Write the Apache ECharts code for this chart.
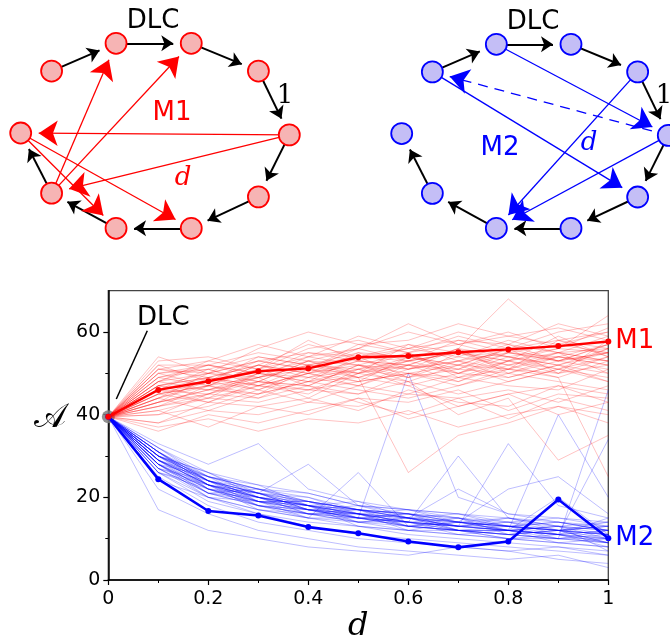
<!DOCTYPE html>
<html>
<head>
<meta charset="utf-8">
<script src="https://cdn.jsdelivr.net/npm/echarts@6/dist/echarts.min.js"></script>
<style>
html,body{margin:0;padding:0;background:#fff}
#chart{width:670px;height:641px}
</style>
</head>
<body>
<div id="chart"></div>
<script>
// d 轴取值
const dValues = [0, 0.1, 0.2, 0.3, 0.4, 0.5, 0.6, 0.7, 0.8, 0.9, 1];
// 粗线 (M1 / M2)
const m1Main = [39.5, 46.0, 48.1, 50.5, 51.2, 53.9, 54.2, 55.1, 55.8, 56.6, 57.7];
const m2Main = [39.5, 24.4, 16.7, 15.6, 12.8, 11.3, 9.3, 7.9, 9.3, 19.5, 10.1];
// 细线 M1 各次
const m1Runs = [
  [39.5,45,47,49,52,51,53,55,54,56,55],
  [39.5,48,46,50,49,53,52,51,55,53,57],
  [39.5,42,44,47,46,48,50,49,51,50,52],
  [39.5,51,50,53,55,54,56,58,57,55,59],
  [39.5,44,48,46,50,52,49,53,51,54,53],
  [39.5,38,41,40,43,42,45,44,46,43,47],
  [39.5,47,49,52,50,55,54,52,56,58,56],
  [39.5,53,54,51,56,58,55,57,60,56,61],
  [39.5,41,37,42,44,41,46,43,42,47,45],
  [39.5,46,51,48,53,50,57,55,53,59,54],
  [39.5,43,46,45,48,51,47,50,49,52,50],
  [39.5,49,47,51,54,52,51,56,54,52,55],
  [39.5,36,40,38,41,44,39,42,45,40,43],
  [39.5,50,52,55,53,56,60,57,59,61,58],
  [39.5,45,43,48,47,45,50,52,48,51,49],
  [39.5,47,50,49,52,54,53,50,55,54,57],
  [39.5,42,45,50,48,49,26,35,38,42,40],
  [39.5,52,48,53,51,57,55,59,56,60,62],
  [39.5,44,47,44,49,47,52,48,53,50,54],
  [39.5,48,53,51,58,53,56,54,58,55,56],
  [39.5,40,42,46,43,47,45,49,47,46,51],
  [39.5,46,45,49,51,50,54,52,51,55,53],
  [39.5,43,49,47,45,51,49,55,52,49,25],
  [39.5,50,51,47,52,55,51,53,57,53,55],
  [39.5,45,47,52,50,48,54,51,50,53,51],
  [39.5,38,43,42,40,44,43,46,41,45,44],
  [39.5,54,50,56,60,57,58,62,59,57,60],
  [39.5,47,46,48,47,52,50,48,52,54,52],
  [39.5,41,44,43,46,45,48,40,44,29,35],
  [39.5,49,52,50,55,53,52,56,68,58,60],
  [39.5,44,41,45,48,46,44,47,50,48,46],
  [39.5,46,48,54,52,49,53,55,53,56,64],
  [39.5,43,46,49,44,50,48,45,48,51,48],
  [39.5,51,49,52,57,54,57,53,55,57,55],
  [39.5,37,39,36,39,38,41,37,40,42,38],
  [39.5,48,50,53,51,56,62,57,54,52,56],
  [39.5,46,49,47,50,53,51,54,52,55,53],
  [39.5,50,47,52,49,51,55,50,54,51,56],
  [39.5,44,50,48,53,49,52,56,50,54,52],
  [39.5,47,44,50,53,52,48,52,56,50,58],
  [39.5,52,52,49,54,56,53,55,51,58,54],
  [39.5,45,48,51,47,52,55,49,53,55,50],
  [39.5,49,51,54,52,50,53,58,55,53,57],
  [39.5,42,47,45,51,48,50,47,51,49,53],
  [39.5,46,43,47,50,47,51,53,49,52,48],
  [39.5,48,52,50,48,54,49,51,56,53,55],
  [39.5,40,45,44,47,43,40,44,39,44,41],
  [39.5,51,53,57,54,59,56,60,57,62,59],
  [39.5,47,49,46,51,49,47,42,45,47,43],
  [39.5,43,45,48,46,50,52,50,53,51,54]
];
// 细线 M2 各次
const m2Runs = [
  [39.5,29,23,20,18,16,15,14,13,12,11],
  [39.5,31,25,22,19,17,16,15,13,14,12],
  [39.5,27,21,18,16,15,13,12,12,11,10],
  [39.5,30,24,21,17,18,15,13,14,12,13],
  [39.5,32,26,23,21,18,17,16,15,14,13],
  [39.5,28,22,19,17,14,15,12,11,12,9],
  [39.5,29,24,20,19,16,14,15,12,11,12],
  [39.5,26,20,17,15,13,12,11,10,9,8],
  [39.5,31,23,21,18,17,16,14,15,13,14],
  [39.5,33,28,33,22,19,17,16,14,15,13],
  [39.5,28,21,19,16,15,50,20,16,14,12],
  [39.5,30,25,22,20,17,16,14,13,12,11],
  [39.5,17,12,10,8,7,6,8,7,5,4],
  [39.5,29,22,18,17,16,14,13,33,18,15],
  [39.5,27,23,20,18,15,13,12,11,10,46],
  [39.5,31,24,21,19,17,15,14,13,12,10],
  [39.5,28,22,20,16,16,14,13,12,40,20],
  [39.5,30,23,19,18,15,14,12,12,11,9],
  [39.5,25,18,14,12,10,9,8,7,8,6],
  [39.5,32,25,22,21,18,17,15,14,13,12],
  [39.5,29,24,20,17,16,13,14,12,13,11],
  [39.5,26,19,16,14,13,11,10,9,8,7],
  [39.5,30,26,21,19,17,15,22,16,15,14],
  [39.5,28,21,18,16,14,13,12,10,11,9],
  [39.5,31,24,22,19,17,16,15,13,12,13],
  [39.5,27,20,17,15,26,13,12,11,10,9],
  [39.5,29,23,19,18,16,14,13,12,11,34],
  [39.5,30,25,21,28,18,16,14,13,12,11],
  [39.5,22,16,12,10,8,7,6,5,6,3],
  [39.5,28,22,19,17,15,14,30,15,13,12],
  [39.5,31,24,20,18,16,15,13,12,11,10],
  [39.5,26,22,18,15,14,12,11,10,9,8],
  [39.5,29,23,21,18,17,15,14,22,25,16],
  [39.5,30,24,19,17,15,14,13,12,20,11],
  [39.5,24,20,16,13,11,10,9,8,7,6],
  [39.5,28,23,20,17,15,13,12,11,10,10],
  [39.5,30,22,21,17,17,14,13,14,11,12],
  [39.5,28,25,19,19,15,16,12,12,13,10],
  [39.5,31,23,20,16,17,13,15,11,12,11],
  [39.5,29,21,22,18,14,15,13,13,10,12],
  [39.5,27,24,18,17,16,12,14,12,11,8],
  [39.5,32,24,21,20,16,17,14,13,14,12],
  [39.5,30,26,20,18,19,15,13,15,12,13],
  [39.5,28,20,19,15,15,14,12,11,12,9],
  [39.5,29,25,23,18,16,13,14,12,10,11],
  [39.5,31,22,19,19,17,15,16,13,12,14],
  [39.5,26,23,17,16,14,14,11,12,9,10],
  [39.5,30,24,21,17,15,16,13,12,13,7],
  [39.5,27,21,20,18,13,12,12,10,10,9],
  [39.5,29,23,18,16,16,15,12,13,11,15]
];
const yTicks = [0, 20, 40, 60];
const yMinorTicks = [10, 30, 50];

// 网络图: 节点位置 (归一化), 边
const nodeX = [-0.77, -0.29, 0.27, 0.77, 1, 0.77, 0.27, -0.29, -0.77, -1];
const nodeY = [0.70, 1, 1, 0.70, 0.01, -0.66, -1, -1, -0.62, 0.03];
const dlcLinks = [[0,1],[1,2],[2,3],[3,4],[4,5],[5,6],[6,7],[7,8],[8,9]];
const m1Links = [[4,9],[4,8],[8,1],[8,2],[9,7],[9,6]];
const m2Links = [[1,4],[0,5],[3,7],[4,7]];
const m2DashedLinks = [[4,0]];

const RED = '#ff0000', BLUE = '#0000ff';
const FONT = 'DejaVu Sans';

function toPairs(vals) { return vals.map((v, i) => [dValues[i], v]); }

function makeLinks(pairs, color, width, size, dashed) {
  return pairs.map(p => ({
    source: p[0], target: p[1],
    symbolSize: [0, size],
    lineStyle: {color: color, width: width, opacity: 1, type: dashed ? [10, 7] : 'solid', curveness: 0}
  }));
}

function nodes() { return nodeX.map((x, i) => ({name: 'n' + i, value: [x, nodeY[i]]})); }

const series = [];

// DLC 起点 + 箭头标注
series.push({
  type: 'scatter', xAxisIndex: 0, yAxisIndex: 0,
  data: [[dValues[0], m1Main[0]]],
  symbolSize: 13, itemStyle: {color: '#7f7f7f', opacity: 0.85}, z: 1, silent: true,
  markLine: {
    silent: true, symbol: ['none', 'arrow'], symbolSize: [0, 14], animation: false,
    lineStyle: {color: '#000', width: 1.5, type: 'solid'}, label: {show: false},
    data: [[{coord: [0.078, 60.3]}, {coord: [0.016, 43.8]}]]
  },
  markPoint: {
    silent: true, symbol: 'circle', symbolSize: 1, itemStyle: {color: 'rgba(0,0,0,0)'},
    label: {show: true, position: 'inside', formatter: 'DLC', color: '#000', fontSize: 26, fontFamily: FONT},
    data: [{coord: [0.11, 63.4]}]
  }
});

m2Runs.forEach(r => series.push({
  type: 'line', xAxisIndex: 0, yAxisIndex: 0, data: toPairs(r), symbol: 'none', silent: true,
  lineStyle: {color: BLUE, width: 1, opacity: 0.26}, z: 2
}));
m1Runs.forEach(r => series.push({
  type: 'line', xAxisIndex: 0, yAxisIndex: 0, data: toPairs(r), symbol: 'none', silent: true,
  lineStyle: {color: RED, width: 1, opacity: 0.24}, z: 2
}));

series.push({
  type: 'line', xAxisIndex: 0, yAxisIndex: 0, data: toPairs(m2Main), z: 3,
  symbol: 'circle', symbolSize: 6, itemStyle: {color: BLUE},
  lineStyle: {color: BLUE, width: 2.6},
  endLabel: {show: true, formatter: 'M2', color: BLUE, fontSize: 26, fontFamily: FONT, distance: 7}
});
series.push({
  type: 'line', xAxisIndex: 0, yAxisIndex: 0, data: toPairs(m1Main), z: 3,
  symbol: 'circle', symbolSize: 6, itemStyle: {color: RED},
  lineStyle: {color: RED, width: 2.4},
  endLabel: {show: true, formatter: 'M1', color: RED, fontSize: 26, fontFamily: FONT, distance: 7}
});

// 左图 M1
series.push({
  type: 'graph', coordinateSystem: 'cartesian2d', xAxisIndex: 1, yAxisIndex: 2,
  data: nodes(), symbolSize: 36, itemStyle: {opacity: 0}, label: {show: false},
  edgeSymbol: ['none', 'arrow'], silent: true, z: 2,
  links: makeLinks(dlcLinks, '#000', 2, 12).concat(makeLinks(m1Links, RED, 1.3, 19))
});
series.push({
  type: 'scatter', xAxisIndex: 1, yAxisIndex: 2, data: nodeX.map((x, i) => [x, nodeY[i]]),
  symbolSize: 21, silent: true, z: 5,
  itemStyle: {color: '#f6b4b4', borderColor: RED, borderWidth: 1.8, opacity: 1}
});
// 右图 M2
series.push({
  type: 'graph', coordinateSystem: 'cartesian2d', xAxisIndex: 2, yAxisIndex: 3,
  data: nodes(), symbolSize: 36, itemStyle: {opacity: 0}, label: {show: false},
  edgeSymbol: ['none', 'arrow'], silent: true, z: 2,
  links: makeLinks(dlcLinks, '#000', 2, 12).concat(makeLinks(m2Links, BLUE, 1.3, 19), makeLinks(m2DashedLinks, BLUE, 1.3, 19, true))
});
series.push({
  type: 'scatter', xAxisIndex: 2, yAxisIndex: 3, data: nodeX.map((x, i) => [x, nodeY[i]]),
  symbolSize: 21, silent: true, z: 5,
  itemStyle: {color: '#c4bef6', borderColor: BLUE, borderWidth: 1.8, opacity: 1}
});

const hiddenX = i => ({gridIndex: i, type: 'value', min: -1, max: 1, show: false});
const hiddenY = i => ({gridIndex: i, type: 'value', min: -1, max: 1, show: false});
const txt = (x, y, s, color, size, italic, family) => ({
  type: 'text', x: x, y: y, z: 10,
  style: {text: s, fill: color, fontSize: size, fontStyle: italic ? 'italic' : 'normal',
          fontFamily: family || FONT, align: 'center', verticalAlign: 'middle'}
});

const chart = echarts.init(document.getElementById('chart'), null, {renderer: 'canvas'});
chart.setOption({
  animation: false,
  backgroundColor: '#fff',
  grid: [
    {left: 108.3, top: 290.7, width: 500, height: 289.3, show: true, borderColor: '#444', borderWidth: 1.3,
     backgroundColor: 'transparent', outerBoundsMode: 'none', containLabel: false},
    {left: 20.7, top: 43.3, width: 268.6, height: 185, outerBoundsMode: 'none'},
    {left: 401.7, top: 44.3, width: 266.6, height: 184, outerBoundsMode: 'none'}
  ],
  xAxis: [
    {
      gridIndex: 0, type: 'value', min: 0, max: 1, interval: 0.2,
      name: 'd', nameLocation: 'middle', nameGap: 31,
      nameTextStyle: {fontSize: 32, fontStyle: 'italic', fontFamily: 'DejaVu Serif', color: '#000'},
      axisLine: {lineStyle: {color: '#000', width: 1.5}},
      axisTick: {inside: false, length: 5, lineStyle: {color: '#000', width: 1.2}},
      minorTick: {show: true, splitNumber: 2, length: 3, lineStyle: {color: '#000', width: 1}},
      axisLabel: {fontSize: 19, color: '#000', fontFamily: FONT, margin: 10,
        formatter: v => (v === 0 ? '0' : v === 1 ? '1' : v.toFixed(1))},
      splitLine: {show: false}
    },
    hiddenX(1), hiddenX(2)
  ],
  yAxis: [
    {
      gridIndex: 0, type: 'value', min: 0, max: 70, interval: 20,
      name: '𝒜', nameLocation: 'middle', nameRotate: 0, nameGap: 42,
      nameTextStyle: {fontSize: 34, color: '#000', fontFamily: 'DejaVu Sans, DejaVu Serif', verticalAlign: 'bottom'},
      axisLine: {show: true, lineStyle: {color: '#000', width: 1.5}},
      axisTick: {show: true, inside: false, length: 5, customValues: yTicks, lineStyle: {color: '#000', width: 1.2}},
      axisLabel: {fontSize: 19, color: '#000', fontFamily: FONT, margin: 8, customValues: yTicks},
      splitLine: {show: false}
    },
    {
      gridIndex: 0, type: 'value', min: 0, max: 70, position: 'left',
      axisLine: {show: false}, axisLabel: {show: false}, splitLine: {show: false},
      axisTick: {show: true, inside: false, length: 3, customValues: yMinorTicks, lineStyle: {color: '#000', width: 1}}
    },
    hiddenY(1), hiddenY(2)
  ],
  graphic: [
    txt(153, 21, 'DLC', '#000', 26),
    txt(285, 96, '1', '#000', 26, false, 'DejaVu Serif'),
    txt(172, 113, 'M1', RED, 26),
    txt(183, 178, 'd', RED, 26, true, 'DejaVu Serif'),
    txt(533, 22, 'DLC', '#000', 26),
    txt(664, 96, '1', '#000', 26, false, 'DejaVu Serif'),
    txt(500, 148, 'M2', BLUE, 26),
    txt(589, 143, 'd', BLUE, 26, true, 'DejaVu Serif')
  ],
  series: series
});
</script>
</body>
</html>
